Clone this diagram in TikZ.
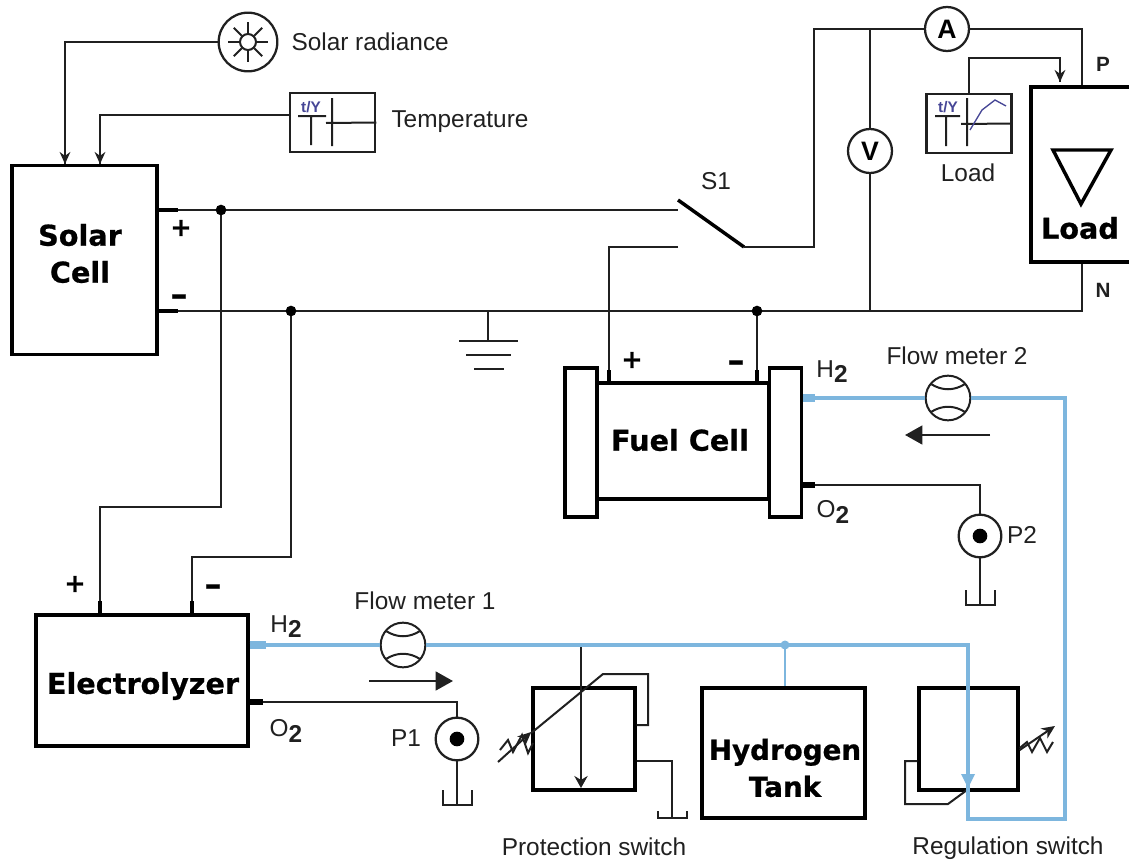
\documentclass[tikz,border=0pt]{standalone}
\usepackage{fontspec}
\setmainfont{Liberation Sans}
\newfontfamily\blockfont{DejaVu Sans Bold}[FakeBold=0.7]
\usetikzlibrary{arrows.meta}
\definecolor{pipeblue}{RGB}{125,182,222}
\definecolor{inkline}{RGB}{32,32,32}
\definecolor{scopeblue}{RGB}{70,70,150}
\tikzset{every picture/.style={line width=0.75pt},
  wire/.style={draw=inkline,line width=1.9pt},
  thinwire/.style={draw=inkline,line width=1.5pt},
  stub/.style={draw=black,line width=3pt},
  pipe/.style={draw=pipeblue,line width=2.8pt},
  pipestub/.style={draw=pipeblue,line width=6pt},
  tipwire/.style={wire,-{Stealth[length=9pt,width=8pt]}},
  blockbox/.style={draw=black,line width=2.6pt,fill=white,inner sep=0pt},
  blockname/.style={inner sep=0pt,align=center,font=\blockfont\fontsize{21.5}{27.7}\selectfont},
  scopebox/.style={draw=inkline,line width=1.8pt,fill=white,inner sep=0pt,minimum width=64pt,minimum height=44pt},
  meter/.style={circle,draw=inkline,line width=1.7pt,fill=white,inner sep=0pt,minimum size=33pt,font=\bfseries\fontsize{20}{22}\selectfont},
  flowmeter/.style={circle,draw=inkline,line width=1.5pt,fill=white,inner sep=0pt,minimum size=33.5pt},
  label/.style={text=inkline,inner sep=0pt,font=\fontsize{18.3}{21}\selectfont},
  sign/.style={inner sep=0pt,font=\blockfont\fontsize{19}{21}\selectfont},
  minussign/.style={inner sep=0pt,font=\blockfont\fontsize{25}{25}\selectfont},
  tytext/.style={text=scopeblue,inner sep=0pt,font=\bfseries\fontsize{11.5}{12}\selectfont},
  dot/.style={circle,fill=black,inner sep=0pt,minimum size=8pt}}
\begin{document}
\begin{tikzpicture}[x=0.75pt,y=0.75pt,yscale=-1,xscale=1]
\useasboundingbox (0,0) rectangle (1129,860);

% Blocks
\node [blockbox,minimum width=108.75pt,minimum height=141.75pt] (solarcell) at (84.5,260) {};
\node [blockbox,minimum width=159pt,minimum height=98pt] (electrolyzer) at (142,680.5) {};
\node [blockbox,minimum width=122pt,minimum height=97.5pt] (tank) at (783.5,753) {};
\node [blockbox,minimum width=129pt,minimum height=87pt] (fuelbody) at (683,441) {};
\node [blockbox,minimum width=24pt,minimum height=111.5pt] (plateleft) at (581,442.5) {};
\node [blockbox,minimum width=24pt,minimum height=111.5pt] (plateright) at (785.5,442.5) {};
\node [blockbox,minimum width=76.5pt,minimum height=131.25pt] (loadbox) at (1082,174.5) {};
\node [blockbox,minimum width=76.5pt,minimum height=76.5pt] (protect) at (584,739) {};
\node [blockbox,minimum width=74.25pt,minimum height=76.5pt] (regulate) at (968.5,739) {};
\node [blockname] (solarname) at (80,253.5) {Solar\\Cell};
\node [blockname] (electroname) at (143,686) {Electrolyzer};
\node [blockname,font=\blockfont\fontsize{20.8}{27.7}\selectfont] (tankname) at (785,768) {Hydrogen\\Tank};
\node [blockname] (fuelname) at (680,440) {Fuel Cell};
\node [blockname] (loadname) at (1080,228) {Load};

% Points of the wires
\coordinate (scplus) at (178,210);
\coordinate (scminus) at (178,311);
\coordinate (jplus) at (221,210);
\coordinate (jminus) at (291,311);
\coordinate (jfuel) at (757,311);
\coordinate (jgnd) at (488,311);
\coordinate (s1in) at (678,210);
\coordinate (s1a) at (678,200);
\coordinate (s1out) at (744,247);
\coordinate (s1low) at (678,247);
\coordinate (wiretop) at (814,29);
\coordinate (vtop) at (870,29);
\coordinate (vbot) at (870,311);
\coordinate (fcplus) at (609,383);
\coordinate (fcminus) at (757,383);
\coordinate (solarin) at (65,164);
\coordinate (tempin) at (100,164);
\coordinate (elplus) at (100,615);
\coordinate (elminus) at (192,615);
\coordinate (loadin) at (1060,82);
\coordinate (gndpt) at (488,341);
\coordinate (oa) at (263,702);
\coordinate (ob) at (815,485);

% Meters
\node [meter] (ampmeter) at (947,29) {A};
\node [meter] (voltmeter) at (870,151) {V};
\node [meter,minimum size=44pt] (sun) at (248,42) {};
\node [meter,minimum size=32pt] (pump1) at (457,739) {};
\node [meter,minimum size=32pt] (pump2) at (980,536) {};
\node [scopebox] (tempscope) at (332.5,122.5) {};
\node [scopebox] (loadscope) at (969,123.5) {};

% Sun
\draw [thinwire] (248,42) circle (8);
\foreach \a in {0,45,...,315} {\draw [thinwire] (248,42) ++(\a:9) -- ++(\a:11);}

% Scope inner
\node [tytext] (tempty) at (311,107) {t/Y};
\draw [thinwire] (298,116) -- (326,116) (311,116) -- (311,145) (332,98) -- (332,146) (326,123) -- (tempscope.east);
\node [tytext] (loadty) at (948,107) {t/Y};
\draw [thinwire] (935,116) -- (960,116) (946,116) -- (946,146) (967,98) -- (967,146) (961,124) -- (loadscope.east);
\draw [draw=scopeblue,line width=1pt] (970,130) -- (982,110) -- (995,100) -- (1006,106);

% Main wires
\draw [stub] (solarcell.east |- scplus) -- (scplus);
\draw [stub] (solarcell.east |- scminus) -- (scminus);
\draw [wire] (scplus) -- (s1in);
\draw [stub,line width=2.6pt] (s1a) -- (s1out);
\draw [wire] (s1out) -| (wiretop) -- (ampmeter);
\draw [wire] (ampmeter) -| (loadbox.north);
\draw [wire] (scminus) -| (loadbox.south);
\draw [wire] (vtop) -- (voltmeter);
\draw [wire] (voltmeter) -- (vbot);
\draw [wire] (s1low) -| (fcplus);
\draw [wire] (jfuel) -- (fcminus);
\draw [stub] (609,370) -- (fcplus);
\draw [stub] (757,370) -- (fcminus);
\draw [wire] (jplus) |- (100,507) -- (elplus);
\draw [wire] (jminus) |- (192,557) -- (elminus);
\draw [stub] (100,601) -- (elplus);
\draw [stub] (192,601) -- (elminus);
\node [dot] (dotplus) at (jplus) {};
\node [dot] (dotminus) at (jminus) {};
\node [dot] (dotfuel) at (jfuel) {};

% Signal wires
\draw [wire] (sun) -| (solarin);
\draw [tipwire] (65,148) -- (solarin);
\draw [wire] (tempscope.west |- 0,115) -| (tempin);
\draw [tipwire] (100,148) -- (tempin);
\draw [wire] (loadscope.north) |- (1060,58) -- (loadin);
\draw [tipwire] (1060,66) -- (loadin);

% Ground
\draw [wire] (jgnd) -- (gndpt);
\draw [wire] (459,341) -- (518,341) (466,355) -- (511,355) (474,369) -- (504,369);

% Load triangle
\draw [draw=black,line width=2.6pt,line join=miter] (1053,150) -- (1111,150) -- (1081,204) -- cycle;

% Oxygen lines
\draw [thinwire] (electrolyzer.east |- oa) -| (pump1);
\draw [stub,line width=5pt] (electrolyzer.east |- oa) -- (oa);
\draw [thinwire] (plateright.east |- ob) -| (pump2);
\draw [stub,line width=5pt] (plateright.east |- ob) -- (ob);

% Pumps
\draw [thinwire] (pump1) -- (457,805);
\draw [thinwire] (443,790) -- (443,805) -- (472,805) -- (472,790);
\node [dot,minimum size=11pt] (pump1dot) at (pump1) {};
\draw [thinwire] (pump2) -- (980,605);
\draw [thinwire] (966,590) -- (966,605) -- (995,605) -- (995,590);
\node [dot,minimum size=11pt] (pump2dot) at (pump2) {};

% Protection switch
\draw [thinwire,-{Stealth[length=9pt,width=10pt]}] (581,645) -- (581,788);
\draw [thinwire] (protect.west |- 0,733) -- (603,674) -- (648,674) -- (648,725) -- (protect.east |- 0,725);
\draw [thinwire] (protect.east |- 0,761) -| (672,818);
\draw [thinwire] (658,811) -- (658,818) -- (687,818) -- (687,811);
\draw [thinwire,-{Stealth[length=10pt,width=9pt]}] (498,762) -- (protect.west |- 0,732);
\draw [thinwire] (500,750) -- (508,740) -- (513,752) -- (522,735) -- (528,753) -- (533,743);

% Regulation switch
\draw [thinwire] (regulate.west |- 0,761) -- (905,761) -- (905,804) -- (948,804) -- (967,790);
\draw [thinwire,-{Stealth[length=10pt,width=9pt]}] (regulate.east |- 0,750) -- (1055,726);
\draw [thinwire] (regulate.east |- 0,748) -- (1027,742) -- (1032,752) -- (1040,738) -- (1047,752) -- (1053,742);

% Flow meters
\node [flowmeter] (flow1) at (403,645) {};
\node [flowmeter] (flow2) at (948,398) {};

% Hydrogen lines
\draw [pipestub] (electrolyzer.east |- flow1) -- (266,645);
\draw [pipe] (electrolyzer.east |- flow1) -- (flow1) -- (968,645) -- (968,819) -- (1065,819) -- (1065,398) -- (flow2) -- (plateright.east |- flow2);
\draw [pipestub] (plateright.east |- flow2) -- (815,398);
\draw [draw=pipeblue,line width=1.5pt] (785,645) -- (tank.north -| 785,0);
\fill [pipeblue] (785,645) circle (4.5);
\fill [pipeblue] (961,774) -- (975,774) -- (968,788) -- cycle;

% Flow meter symbols
\draw [thinwire] (386,631) .. controls (397,638) and (409,638) .. (420,631);
\draw [thinwire] (386,659) .. controls (397,652) and (409,652) .. (420,659);
\draw [thinwire] (931,384) .. controls (942,391) and (954,391) .. (965,384);
\draw [thinwire] (931,412) .. controls (942,405) and (954,405) .. (965,412);

% Flow arrows
\draw [wire,-{Triangle[length=13pt,width=14pt]}] (369,681) -- (453,681);
\draw [wire,-{Triangle[length=13pt,width=14pt]}] (990,435) -- (905,435);

% Text Node
\node [label,anchor=west] (solartext) at (291,42) {Solar radiance};
\node [label,anchor=west] (temptext) at (391,122) {Temperature};
\node [label] (s1text) at (716,181) {S1};
\node [label] (loadtext) at (968,173) {Load};
\node [label,font=\bfseries\fontsize{15.5}{16}\selectfont] (ptext) at (1103,64) {P};
\node [label,font=\bfseries\fontsize{15.5}{16}\selectfont] (ntext) at (1103,290) {N};
\node [label] (flow2text) at (957,356) {Flow meter 2};
\node [label] (flow1text) at (425,601) {Flow meter 1};
\node [label] (h2fuel) at (832,372) {H\raisebox{-0.4ex}{\textbf{2}}};
\node [label] (o2fuel) at (833,512) {O\raisebox{-0.4ex}{\textbf{2}}};
\node [label] (h2el) at (286,627) {H\raisebox{-0.4ex}{\textbf{2}}};
\node [label] (o2el) at (286,731) {O\raisebox{-0.4ex}{\textbf{2}}};
\node [label] (p1text) at (406,738) {P1};
\node [label] (p2text) at (1022,535) {P2};
\node [label] (prottext) at (594,847) {Protection switch};
\node [label] (regtext) at (1008,848) {Regulation switch};
\node [sign] (scp) at (181,228) {+};
\node [minussign] (scm) at (179,300) {–};
\node [sign] (fcp) at (632,360) {+};
\node [minussign] (fcm) at (736,366) {–};
\node [sign] (elp) at (75,584) {+};
\node [minussign] (elm) at (213,590) {–};
\end{tikzpicture}
\end{document}
